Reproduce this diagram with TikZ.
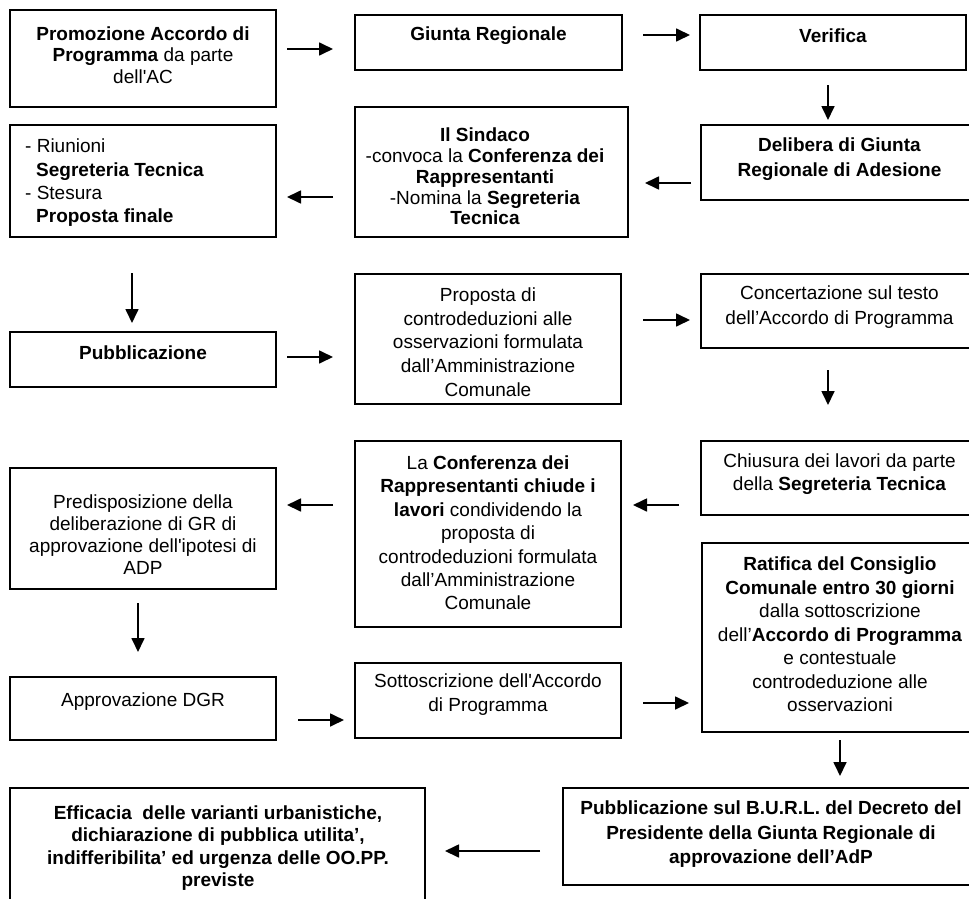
\documentclass[tikz,border=0pt]{standalone}
\usepackage{fontspec}
\setmainfont{Liberation Sans}
\usetikzlibrary{arrows.meta}
\begin{document}
\begin{tikzpicture}[x=1pt,y=-1pt,
  box/.style={draw=black,line width=1.6pt,rectangle,inner sep=0pt,outer sep=0pt},
  txt/.style={inner sep=0pt,align=center,font=\fontsize{19}{#1}\selectfont},
  txt/.default={23},
  arr/.style={line width=1.7pt,-{Triangle[length=14pt,width=13pt]}}]
\clip (0,0) rectangle (969,899);
\fill[white] (0,0) rectangle (969,899);
% boxes
\node[box,minimum width=266pt,minimum height=97pt] (b1) at (143,58.5) {};
\node[box,minimum width=267pt,minimum height=55pt] (b2) at (488.5,42.5) {};
\node[box,minimum width=266pt,minimum height=55pt] (b3) at (833,42.5) {};
\node[box,minimum width=277pt,minimum height=75pt] (b4) at (839.5,162.5) {};
\node[box,minimum width=273pt,minimum height=130pt] (b5) at (491.5,172) {};
\node[box,minimum width=266pt,minimum height=112pt] (b6) at (143,181) {};
\node[box,minimum width=266pt,minimum height=55pt] (b7) at (143,359.5) {};
\node[box,minimum width=266pt,minimum height=130pt] (b8) at (488,339) {};
\node[box,minimum width=277pt,minimum height=74pt] (b9) at (839.5,311) {};
\node[box,minimum width=277pt,minimum height=74pt] (b10) at (839.5,478) {};
\node[box,minimum width=266pt,minimum height=186pt] (b11) at (488,534) {};
\node[box,minimum width=266pt,minimum height=121pt] (b12) at (143,528.5) {};
\node[box,minimum width=266pt,minimum height=63pt] (b13) at (143,708.5) {};
\node[box,minimum width=266pt,minimum height=75pt] (b14) at (488,700.5) {};
\node[box,minimum width=276pt,minimum height=189pt] (b15) at (840,637.5) {};
\node[box,minimum width=415pt,minimum height=97pt] (b16) at (770.5,836.5) {};
\node[box,minimum width=415pt,minimum height=122pt] (b17) at (217.5,849) {};
% texts
\node[txt=21.5] (t1) at (143,55) {\textbf{Promozione Accordo di}\\\textbf{Programma} da parte\\dell\textquotesingle AC};
\node[txt] (t2) at (488.5,36) {\textbf{Giunta Regionale}};
\node[txt] (t3) at (833,36) {\textbf{Verifica}};
\node[txt=25] (t4) at (839.5,159.5) {\textbf{Delibera di Giunta}\\\textbf{Regionale di Adesione}};
\node[txt=20.8] (t5) at (485,176.5) {\textbf{Il Sindaco}\\-convoca la \textbf{Conferenza dei}\\\textbf{Rappresentanti}\\-Nomina la \textbf{Segreteria}\\\textbf{Tecnica}};
\node[txt=23.3,align=left,anchor=west] (t6) at (25,183) {- Riunioni\\\hspace*{11pt}\textbf{Segreteria Tecnica}\\- Stesura\\\hspace*{11pt}\textbf{Proposta finale}};
\node[txt] (t7) at (143,353) {\textbf{Pubblicazione}};
\node[txt=23.7] (t8) at (488,342) {Proposta di\\controdeduzioni alle\\osservazioni formulata\\dall’Amministrazione\\Comunale};
\node[txt=25] (t9) at (839.5,307.5) {Concertazione sul testo\\dell’Accordo di Programma};
\node[txt=23] (t10) at (839.5,474.5) {Chiusura dei lavori da parte\\della \textbf{Segreteria Tecnica}};
\node[txt=23.4] (t11) at (488,533) {La \textbf{Conferenza dei}\\\textbf{Rappresentanti chiude i}\\\textbf{lavori} condividendo la\\proposta di\\controdeduzioni formulata\\dall’Amministrazione\\Comunale};
\node[txt=22] (t12) at (143,535) {Predisposizione della\\deliberazione di GR di\\approvazione dell\textquotesingle ipotesi di\\ADP};
\node[txt] (t13) at (143,702) {Approvazione DGR};
\node[txt=24] (t14) at (488,695) {Sottoscrizione dell\textquotesingle Accordo\\di Programma};
\node[txt=23.5] (t15) at (840,634.5) {\textbf{Ratifica del Consiglio}\\\textbf{Comunale entro 30 giorni}\\dalla sottoscrizione\\dell’\textbf{Accordo di Programma}\\e contestuale\\controdeduzione alle\\osservazioni};
\node[txt=24.5] (t16) at (771,834.5) {\textbf{Pubblicazione sul B.U.R.L. del Decreto del}\\\textbf{Presidente della Giunta Regionale di}\\\textbf{approvazione dell’AdP}};
\node[txt=22.3] (t17) at (218,848) {\textbf{Efficacia\ \ delle varianti urbanistiche,}\\\textbf{dichiarazione di pubblica utilita’,}\\\textbf{indifferibilita’ ed urgenza delle OO.PP.}\\\textbf{previste}};
% arrows
\draw[arr,shorten <=11pt,shorten >=22pt] (b1.east |- 0,49) -- (b2.west |- 0,49);
\draw[arr,shorten <=21pt,shorten >=10pt] (b2.east |- 0,35) -- (b3.west |- 0,35);
\draw[arr,shorten <=15pt,shorten >=5pt] (828,0 |- b3.south) -- (828,0 |- b4.north);
\draw[arr,shorten <=10pt,shorten >=17pt] (b4.west |- 0,183) -- (b5.east |- 0,183);
\draw[arr,shorten <=22pt,shorten >=11pt] (b5.west |- 0,197) -- (b6.east |- 0,197);
\draw[arr,shorten <=36pt,shorten >=9pt] (132,0 |- b6.south) -- (132,0 |- b7.north);
\draw[arr,shorten <=11pt,shorten >=22pt] (b7.east |- 0,357) -- (b8.west |- 0,357);
\draw[arr,shorten <=22pt,shorten >=11pt] (b8.east |- 0,320) -- (b9.west |- 0,320);
\draw[arr,shorten <=22pt,shorten >=36pt] (828,0 |- b9.south) -- (828,0 |- b10.north);
\draw[arr,shorten <=22pt,shorten >=12pt] (b10.west |- 0,505) -- (b11.east |- 0,505);
\draw[arr,shorten <=22pt,shorten >=11pt] (b11.west |- 0,505) -- (b12.east |- 0,505);
\draw[arr,shorten <=14pt,shorten >=25pt] (138,0 |- b12.south) -- (138,0 |- b13.north);
\draw[arr,shorten <=22pt,shorten >=11pt] (b13.east |- 0,720) -- (b14.west |- 0,720);
\draw[arr,shorten <=22pt,shorten >=13pt] (b14.east |- 0,703) -- (b15.west |- 0,703);
\draw[arr,shorten <=8pt,shorten >=12pt] (840,0 |- b15.south) -- (840,0 |- b16.north);
\draw[arr,shorten <=23pt,shorten >=20pt] (b16.west |- 0,851) -- (b17.east |- 0,851);
\end{tikzpicture}
\end{document}
